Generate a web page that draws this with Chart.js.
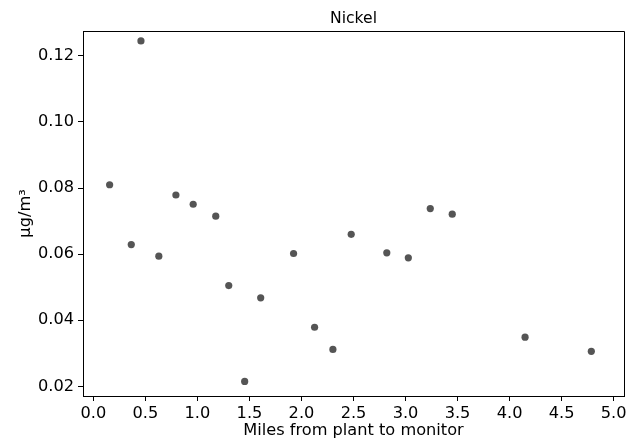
<!DOCTYPE html>
<html><head><meta charset="utf-8">
<script src="https://cdn.jsdelivr.net/npm/chart.js@4/dist/chart.umd.min.js"></script>
<style>html,body{margin:0;padding:0;background:#fff}#wrap{width:640px;height:444px}</style>
</head><body><div id="wrap"><canvas id="c" width="640" height="444"></canvas></div>
<script>
const chartTitle = 'Nickel';
const xLabel = 'Miles from plant to monitor';
const yLabel = 'μg/m³';
const miles = [0.156,0.364,0.457,0.629,0.793,0.959,1.176,1.301,1.454,1.608,1.924,2.126,2.302,2.478,2.820,3.027,3.238,3.449,4.149,4.786];
const nickel = [0.0810,0.0629,0.1245,0.0594,0.0779,0.0751,0.0715,0.0505,0.0215,0.0468,0.0602,0.0379,0.0312,0.0660,0.0604,0.0589,0.0738,0.0721,0.0349,0.0306];
const xTicks = [0,0.5,1,1.5,2,2.5,3,3.5,4,4.5,5];
const yTicks = [0.02,0.04,0.06,0.08,0.10,0.12];

const FONT = {family:'"DejaVu Sans", sans-serif', size:16.2};
const TFONT = {family:'"DejaVu Sans", sans-serif', size:15.6};
const points = miles.map((m,i)=>({x:m, y:nickel[i]}));

const framePlugin = {
  id:'frame',
  afterDraw(chart){
    const {ctx, chartArea:a} = chart;
    ctx.save();
    ctx.strokeStyle = '#000';
    ctx.lineWidth = 1;
    ctx.beginPath();
    ctx.moveTo(Math.round(a.left)+0.5, Math.round(a.top)+0.5);
    ctx.lineTo(Math.round(a.right)+0.5, Math.round(a.top)+0.5);
    ctx.lineTo(Math.round(a.right)+0.5, Math.round(a.bottom)+0.5);
    ctx.stroke();
    ctx.fillStyle = '#000';
    ctx.font = TFONT.size + 'px ' + TFONT.family;
    ctx.textAlign = 'center';
    ctx.textBaseline = 'alphabetic';
    ctx.fillText(chartTitle, (a.left+a.right)/2, 22.7);
    ctx.restore();
  }
};

new Chart(document.getElementById('c'), {
  type:'scatter',
  data:{datasets:[{data:points, backgroundColor:'#555555', borderWidth:0, pointRadius:3.6, pointHoverRadius:3.6}]},
  options:{
    responsive:false, animation:false, devicePixelRatio:1,
    layout:{padding:{top:31,right:16,left:0,bottom:0}},
    plugins:{legend:{display:false}, tooltip:{enabled:false}, title:{display:false}},
    scales:{
      x:{type:'linear', position:'bottom', min:-0.1, max:5.1,
        afterBuildTicks:s=>{s.ticks = xTicks.map(v=>({value:v}));},
        afterFit:s=>{s.height=48;},
        ticks:{callback:v=>Number(v).toFixed(1), font:FONT, color:'#000', padding:3, maxRotation:0, autoSkip:false},
        grid:{drawOnChartArea:false, drawTicks:true, tickLength:5, color:'#000', lineWidth:1},
        border:{display:true, color:'#000', width:1},
        title:{display:true, text:xLabel, font:FONT, color:'#000', padding:{top:0,bottom:3}}
      },
      y:{type:'linear', position:'left', min:0.0171, max:0.1275,
        afterBuildTicks:s=>{s.ticks = yTicks.map(v=>({value:v}));},
        afterFit:s=>{s.width=83;},
        ticks:{callback:v=>Number(v).toFixed(2), font:FONT, color:'#000', padding:4, autoSkip:false},
        grid:{drawOnChartArea:false, drawTicks:true, tickLength:5, color:'#000', lineWidth:1},
        border:{display:true, color:'#000', width:1},
        title:{display:true, text:yLabel, font:FONT, color:'#000', padding:{top:16,bottom:0}}
      }
    }
  },
  plugins:[framePlugin]
});
</script></body></html>
